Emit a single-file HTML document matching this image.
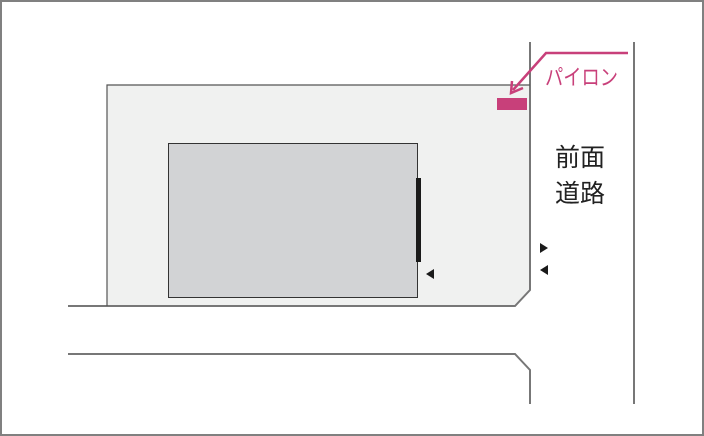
<!DOCTYPE html>
<html><head><meta charset="utf-8"><style>
html,body{margin:0;padding:0;background:#fff;}
svg{display:block;}
text{font-family:"Liberation Sans","Noto Sans CJK JP",sans-serif;}
</style></head><body>
<svg width="704" height="436" viewBox="0 0 704 436" xmlns="http://www.w3.org/2000/svg">
<rect x="1" y="1" width="702" height="434" fill="#fff" stroke="#808080" stroke-width="2"/>
<path d="M107,306 L107,85 L530,85 L530,290 L515,306 Z" fill="#f0f1f0" stroke="none"/>
<path d="M68,306 L515,306 L530,290 L530,42" fill="none" stroke="#777" stroke-width="2"/>
<path d="M107,306 L107,85 L530,85" fill="none" stroke="#555" stroke-width="1.2"/>
<path d="M68,354 L515,354 L530,370 L530,404" fill="none" stroke="#777" stroke-width="2"/>
<line x1="634" y1="42" x2="634" y2="404" stroke="#777" stroke-width="2"/>
<rect x="168.5" y="143.5" width="249" height="154" fill="#d2d3d5" stroke="#333" stroke-width="1"/>
<rect x="416" y="178" width="5" height="84" fill="#1a1a1a"/>
<polygon points="426,274 434,269 434,279" fill="#1a1a1a"/>
<polygon points="548,248 540,243 540,253" fill="#1a1a1a"/>
<polygon points="540,270 548,265 548,275" fill="#1a1a1a"/>
<rect x="497" y="98" width="30" height="12" fill="#c8407a"/>
<polyline points="628,53 546,53 513,90" fill="none" stroke="#c8407a" stroke-width="2.5"/>
<polyline points="512,81 511,93 523,88" fill="none" stroke="#c8407a" stroke-width="2.5"/>
<text x="545" y="85" font-size="22" fill="#c8407a" textLength="73" lengthAdjust="spacingAndGlyphs">パイロン</text>
<text x="555" y="166" font-size="25" fill="#222">前面</text>
<text x="555" y="202" font-size="25" fill="#222">道路</text>
</svg>
</body></html>
